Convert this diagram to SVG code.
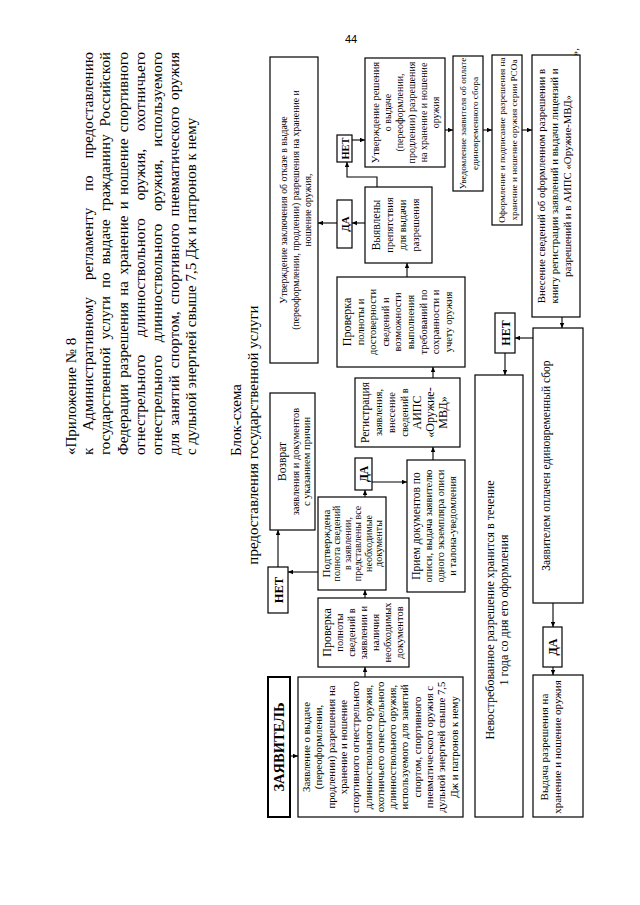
<svg xmlns="http://www.w3.org/2000/svg" width="640" height="905" viewBox="0 0 640 905">
<style>
.b{fill:#fff;stroke:#000;stroke-width:1.2}
.bb{fill:#fff;stroke:#000;stroke-width:2}
.t{font-family:"Liberation Serif","Times New Roman",serif;fill:#000;text-anchor:middle}
.k{font-weight:bold}
.hd{font-family:"Liberation Serif","Times New Roman",serif;font-size:15px;fill:#000}
.c{fill:none;stroke:#000;stroke-width:1.1;marker-end:url(#a)}
</style>
<defs>
<marker id="a" markerUnits="userSpaceOnUse" viewBox="0 0 10 10" refX="10" refY="5" markerWidth="5" markerHeight="5" orient="auto"><path d="M0,0.5 L10,5 L0,9.5 z" fill="#000"/></marker>
</defs>
<rect width="640" height="905" fill="#fff"/>
<text id="pagenum" x="345" y="43" font-family="Liberation Sans,Arial,sans-serif" font-size="11">44</text>
<g transform="translate(0,905) rotate(-90)">
<g id="header" class="hd">
<text x="450" y="76">«Приложение № 8</text>
<text x="450" y="93.2" textLength="403" lengthAdjust="spacing" word-spacing="13">к Административному регламенту по предоставлению</text>
<text x="450" y="110.4" textLength="403" lengthAdjust="spacing" word-spacing="4">государственной услуги по выдаче гражданину Российской</text>
<text x="450" y="127.6" textLength="403" lengthAdjust="spacing" word-spacing="2.5">Федерации разрешения на хранение и ношение спортивного</text>
<text x="450" y="144.8" textLength="403" lengthAdjust="spacing" word-spacing="14">огнестрельного длинноствольного оружия, охотничьего</text>
<text x="450" y="162" textLength="403" lengthAdjust="spacing" word-spacing="9">огнестрельного длинноствольного оружия, используемого</text>
<text x="450" y="179.2" textLength="403" lengthAdjust="spacing" word-spacing="3">для занятий спортом, спортивного пневматического оружия</text>
<text x="450" y="196.4">с дульной энергией свыше 7,5 Дж и патронов к нему</text>
</g>
<g id="title" class="hd" text-anchor="middle">
<text x="485" y="241">Блок-схема</text>
<text x="470" y="258">предоставления государственной услуги</text>
</g>

<g id="n-zayavitel"><rect class="bb" x="88" y="268" width="140" height="22"/><text class="t k" x="158" y="284" font-size="14.5">ЗАЯВИТЕЛЬ</text></g>

<g id="n-zayavlenie"><rect class="b" x="88" y="298" width="140" height="165"/>
<text class="t" font-size="10.8"><tspan x="158" y="310">Заявление о выдаче</tspan><tspan x="158" dy="12.3">(переоформлении,</tspan><tspan x="158" dy="12.3">продлении) разрешения на</tspan><tspan x="158" dy="12.3">хранение и ношение</tspan><tspan x="158" dy="12.3">спортивного огнестрельного</tspan><tspan x="158" dy="12.3">длинноствольного оружия,</tspan><tspan x="158" dy="12.3">охотничьего огнестрельного</tspan><tspan x="158" dy="12.3">длинноствольного оружия,</tspan><tspan x="158" dy="12.3">используемого для занятий</tspan><tspan x="158" dy="12.3">спортом, спортивного</tspan><tspan x="158" dy="12.3">пневматического оружия с</tspan><tspan x="158" dy="12.3">дульной энергией свыше 7,5</tspan><tspan x="158" dy="12.3">Дж и патронов к нему</tspan></text></g>

<g id="n-proverka1"><rect class="b" x="238" y="318" width="69" height="91"/>
<text class="t" font-size="10.5"><tspan x="272.5" y="331" font-size="12">Проверка</tspan><tspan x="272.5" dy="12">полноты</tspan><tspan x="272.5" dy="12">сведений в</tspan><tspan x="272.5" dy="12">заявлении и</tspan><tspan x="272.5" dy="12">наличия</tspan><tspan x="272.5" dy="12">необходимых</tspan><tspan x="272.5" dy="12">документов</tspan></text></g>

<g id="n-podtverzhdena"><rect class="b" x="315" y="318" width="93" height="68"/>
<text class="t" font-size="10"><tspan x="361.5" y="329.5" font-size="11">Подтверждена</tspan><tspan x="361.5" dy="10.5">полнота сведений</tspan><tspan x="361.5" dy="10.5">в заявлении,</tspan><tspan x="361.5" dy="10.5">представлены все</tspan><tspan x="361.5" dy="10.5">необходимые</tspan><tspan x="361.5" dy="10.5">документы</tspan></text></g>

<g id="n-net-mid"><rect class="b" x="292" y="268" width="46" height="20"/><text class="t k" x="315" y="282.5" font-size="12.5">НЕТ</text></g>

<g id="n-vozvrat"><rect class="b" x="375" y="270" width="137" height="45"/>
<text class="t" font-size="10.5"><tspan x="443.5" y="286" font-size="11.5">Возврат</tspan><tspan x="443.5" dy="12.5">заявления и документов</tspan><tspan x="443.5" dy="11.5">с указанием причин</tspan></text></g>

<g id="n-da-mid"><rect class="b" x="415" y="355" width="32" height="17"/><text class="t k" x="431" y="368" font-size="11.5">ДА</text></g>

<g id="n-priem"><rect class="b" x="313" y="407" width="132" height="58"/>
<text class="t" font-size="10.5"><tspan x="379" y="420" font-size="11.5">Прием документов по</tspan><tspan x="379" dy="12">описи, выдача заявителю</tspan><tspan x="379" dy="12">одного экземпляра описи</tspan><tspan x="379" dy="12">и талона-уведомления</tspan></text></g>

<g id="n-registraciya"><rect class="b" x="458" y="355" width="69" height="105"/>
<text class="t" font-size="10.5"><tspan x="492.5" y="369" font-size="11.5">Регистрация</tspan><tspan x="492.5" dy="13">заявления,</tspan><tspan x="492.5" dy="13">внесение</tspan><tspan x="492.5" dy="13">сведений в</tspan><tspan x="492.5" dy="13" font-size="12">АИПС</tspan><tspan x="492.5" dy="13" font-size="12">«Оружие-</tspan><tspan x="492.5" dy="13" font-size="12">МВД»</tspan></text></g>

<g id="n-proverka2"><rect class="b" x="538" y="337" width="90" height="128"/>
<text class="t" font-size="10.5"><tspan x="583" y="351" font-size="12">Проверка</tspan><tspan x="583" dy="12.6">полноты и</tspan><tspan x="583" dy="12.6">достоверности</tspan><tspan x="583" dy="12.6">сведений и</tspan><tspan x="583" dy="12.6">возможности</tspan><tspan x="583" dy="12.6">выполнения</tspan><tspan x="583" dy="12.6">требований по</tspan><tspan x="583" dy="12.6">сохранности и</tspan><tspan x="583" dy="12.6">учету оружия</tspan></text></g>

<g id="n-vyyavleny"><rect class="b" x="642" y="365" width="76" height="67"/>
<text class="t" font-size="10.5"><tspan x="680" y="380" font-size="11.5">Выявлены</tspan><tspan x="680" dy="13">препятствия</tspan><tspan x="680" dy="13">для выдачи</tspan><tspan x="680" dy="13">разрешения</tspan></text></g>

<g id="n-da-top"><rect class="b" x="657" y="337" width="48" height="15"/><text class="t k" x="681" y="348.5" font-size="11">ДА</text></g>

<g id="n-net-top"><rect class="b" x="743" y="337" width="27" height="15"/><text class="t k" x="756.5" y="348.5" font-size="10.5">НЕТ</text></g>

<g id="n-utv-zakl"><rect class="b" x="542" y="270" width="306" height="48"/>
<text class="t" font-size="9.8"><tspan x="695" y="286.5">Утверждение заключения об отказе в выдаче</tspan><tspan x="695" dy="12">(переоформлении, продлении) разрешения на хранение и</tspan><tspan x="695" dy="12">ношение оружия,</tspan></text></g>

<g id="n-utv-resh"><rect class="b" x="738" y="365" width="109" height="80"/>
<text class="t" font-size="10"><tspan x="792.5" y="378.5" font-size="10.5">Утверждение решения</tspan><tspan x="792.5" dy="12">о выдаче</tspan><tspan x="792.5" dy="12">(переоформлении,</tspan><tspan x="792.5" dy="12">продлении) разрешения</tspan><tspan x="792.5" dy="12">на хранение и ношение</tspan><tspan x="792.5" dy="12">оружия</tspan></text></g>

<g id="n-uvedomlenie"><rect class="b" x="714" y="453" width="135" height="30"/>
<text class="t" font-size="9.2"><tspan x="781.5" y="465.5">Уведомление заявителя об оплате</tspan><tspan x="781.5" dy="12">единовременного сбора</tspan></text></g>

<g id="n-oformlenie"><rect class="b" x="680" y="492" width="170" height="30"/>
<text class="t" font-size="9.2"><tspan x="765" y="504.5">Оформление и подписание разрешения на</tspan><tspan x="765" dy="12">хранение и ношение оружия серии РСОа</tspan></text></g>

<g id="n-vnesenie"><rect class="b" x="588" y="532" width="262" height="48"/>
<text class="t" font-size="10.8"><tspan x="719" y="545">Внесение сведений об оформленном разрешении в</tspan><tspan x="719" dy="13">книгу регистрации заявлений и выдачи лицензий и</tspan><tspan x="719" dy="13">разрешений и в АИПС «Оружие-МВД»</tspan></text>
<text class="t" x="853" y="578" font-size="11" text-anchor="start">»,</text></g>

<g id="n-oplachen"><rect class="b" x="302" y="533" width="275" height="50"/>
<text class="t" x="439.5" y="550" font-size="11.5">Заявителем оплачен единовременный сбор</text></g>

<g id="n-net-low"><rect class="b" x="552" y="495" width="40" height="20"/><text class="t k" x="572" y="509.5" font-size="12">НЕТ</text></g>

<g id="n-nevostreb"><rect class="b" x="88" y="475" width="442" height="48"/>
<text class="t" font-size="12"><tspan x="295" y="494">Невостребованное разрешение хранится в течение</tspan><tspan x="295" dy="14">1 года со дня его оформления</tspan></text></g>

<g id="n-da-low"><rect class="b" x="238" y="543" width="40" height="19"/><text class="t k" x="258" y="557" font-size="12">ДА</text></g>

<g id="n-vydacha"><rect class="b" x="88" y="533" width="142" height="50"/>
<text class="t" font-size="11"><tspan x="158" y="548">Выдача разрешения на</tspan><tspan x="158" dy="12.5">хранение и ношение оружия</tspan></text></g>

<g id="connectors">
<path class="c" d="M149,290 V298"/>
<path class="c" d="M228,365 H238"/>
<path class="c" d="M307,365 H315"/>
<path class="c" d="M408,365 H415"/>
<path class="c" d="M333,318 V288"/>
<path class="c" d="M338,278 H375"/>
<path class="c" d="M423,372 V407"/>
<path class="c" d="M445,433 H458"/>
<path class="c" d="M527,433 H538"/>
<path class="c" d="M628,407 H642"/>
<path class="c" d="M682,365 V352"/>
<path class="c" d="M682,337 V318"/>
<path class="c" d="M718,377 H728 V347 H743"/>
<path class="c" d="M765,352 V365"/>
<path class="c" d="M775,445 V453"/>
<path class="c" d="M775,483 V492"/>
<path class="c" d="M775,522 V532"/>
<path class="c" d="M588,562 H577"/>
<path class="c" d="M567,533 V515"/>
<path class="c" d="M552,505 H530"/>
<path class="c" d="M302,553 H278"/>
<path class="c" d="M238,553 H230"/>
</g>
</g>
</svg>
